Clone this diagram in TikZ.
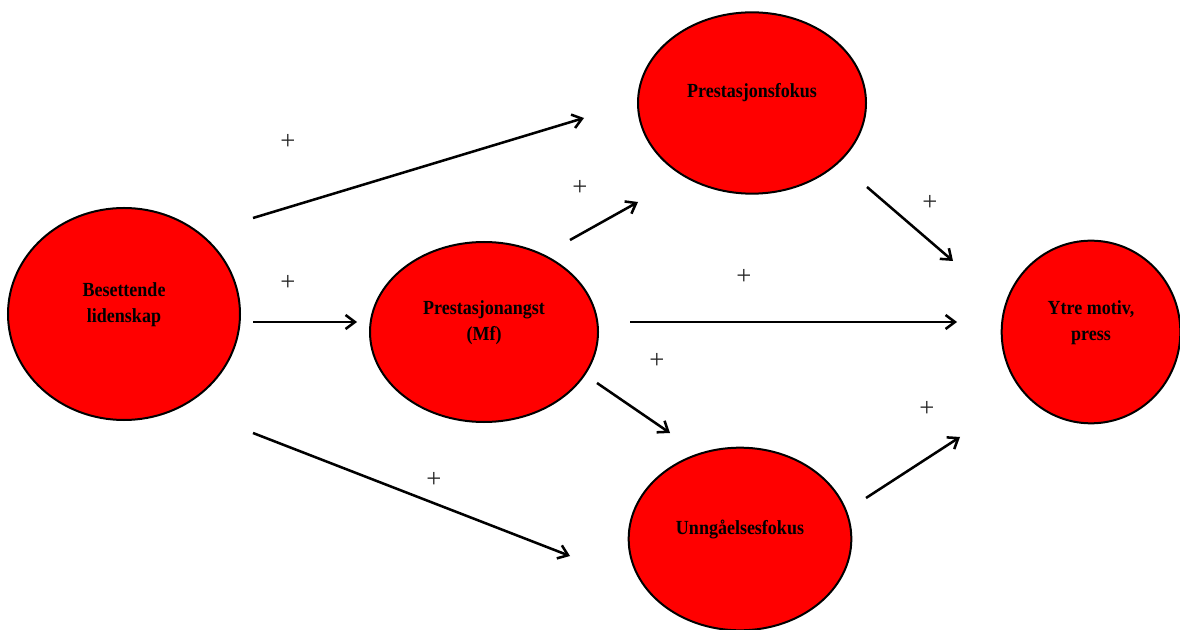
\documentclass[tikz,border=0pt]{standalone}
\usepackage{fontspec}
\usetikzlibrary{shapes.geometric,arrows.meta}
\setmainfont{Liberation Serif}
\newfontfamily\lblfont[FakeStretch=0.9]{Liberation Serif}

\tikzset{
  factor/.style={ellipse, draw=black, line width=1.5pt, fill=red, inner sep=0pt},
  factortext/.style={font=\lblfont\bfseries\fontsize{15}{20}\selectfont, align=center, text=black, inner sep=0pt},
  effect/.style={line width=1.9pt, -{Straight Barb[length=7pt,width=10.5pt,line width=1.9pt]}},
  sign/.style={font=\fontsize{20}{20}\selectfont, inner sep=0pt, text=black!85}
}

\begin{document}
\begin{tikzpicture}[x=0.75pt,y=-0.75pt]
\useasboundingbox (0,0) rectangle (1180,630);

% factors
\node[factor, minimum width=174pt, minimum height=159pt,
      label={[factortext, yshift=7pt]center:Besettende\\lidenskap}] (bes) at (124,314) {};
\node[factor, minimum width=171pt, minimum height=135pt,
      label={[factortext, yshift=7pt]center:Prestasjonangst\\(Mf)}] (angst) at (484,332) {};
\node[factor, minimum width=171pt, minimum height=136pt,
      label={[factortext, yshift=8pt]center:Prestasjonsfokus}] (pfokus) at (752,103) {};
\node[factor, minimum width=134pt, minimum height=137pt,
      label={[factortext, yshift=7pt]center:Ytre motiv,\\press}] (ytre) at (1091,332) {};
\node[factor, minimum width=167pt, minimum height=137pt,
      label={[factortext, yshift=7pt]center:Unngåelsesfokus}] (unng) at (740,539) {};

% arrow end points
\coordinate (a1s) at (253,218);  \coordinate (a1e) at (584,118);
\coordinate (a2s) at (253,322);  \coordinate (a2e) at (357,322);
\coordinate (a3s) at (253,433);  \coordinate (a3e) at (570,556);
\coordinate (a4s) at (570,240);  \coordinate (a4e) at (638,202);
\coordinate (a5s) at (630,322);  \coordinate (a5e) at (957,322);
\coordinate (a6s) at (597,383);  \coordinate (a6e) at (670,433);
\coordinate (a7s) at (867,187);  \coordinate (a7e) at (953,261);
\coordinate (a8s) at (866,498);  \coordinate (a8e) at (960,437);

% effects
\draw[effect] (a1s) -- (a1e);
\draw[effect] (a2s) -- (a2e);
\draw[effect] (a3s) -- (a3e);
\draw[effect] (a4s) -- (a4e);
\draw[effect] (a5s) -- (a5e);
\draw[effect] (a6s) -- (a6e);
\draw[effect] (a7s) -- (a7e);
\draw[effect] (a8s) -- (a8e);

% signs
\node[sign] (s1) at (288,142) {+};
\node[sign] (s2) at (288,283) {+};
\node[sign] (s3) at (434,480) {+};
\node[sign] (s4) at (580,188) {+};
\node[sign] (s5) at (744,277) {+};
\node[sign] (s6) at (657,361) {+};
\node[sign] (s7) at (930,203) {+};
\node[sign] (s8) at (927,409) {+};
\end{tikzpicture}
\end{document}
